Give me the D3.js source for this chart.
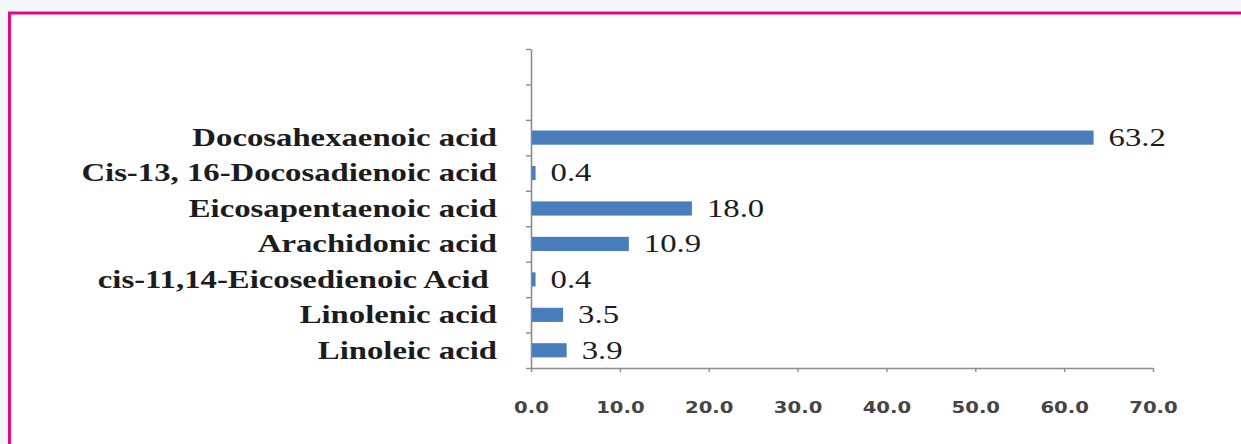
<!DOCTYPE html>
<html>
<head>
<meta charset="utf-8">
<script src="https://cdn.jsdelivr.net/npm/d3@7"></script>
<style>
  html, body { margin: 0; padding: 0; background: #f4f6f7; }
  svg { display: block; }
</style>
</head>
<body>
<svg id="chart" width="1241" height="444"></svg>
<script>
// ---- data ----
const categories = [
  "Docosahexaenoic acid",
  "Cis-13, 16-Docosadienoic acid",
  "Eicosapentaenoic acid",
  "Arachidonic acid",
  "cis-11,14-Eicosedienoic Acid ",
  "Linolenic acid",
  "Linoleic acid"
];
const values = [63.2, 0.4, 18.0, 10.9, 0.4, 3.5, 3.9];
const valueLabels = ["63.2", "0.4", "18.0", "10.9", "0.4", "3.5", "3.9"];
const blankSlots = ["blank-1", "blank-2"];
const xTicks = [0, 10, 20, 30, 40, 50, 60, 70];
const xTickLabels = ["0.0", "10.0", "20.0", "30.0", "40.0", "50.0", "60.0", "70.0"];

// ---- layout ----
const W = 1241, H = 444;
const stretch = 1.31;          // reference is horizontally stretched
const svg = d3.select("#chart");

// panel background + magenta frame (top and left)
svg.append("rect").attr("x", 9).attr("y", 13).attr("width", W - 9).attr("height", H - 13).attr("fill", "#ffffff");
svg.append("line").attr("x1", 8).attr("x2", W).attr("y1", 13).attr("y2", 13)
  .attr("stroke", "#e5097f").attr("stroke-width", 3);
svg.append("line").attr("x1", 9.5).attr("x2", 9.5).attr("y1", 12).attr("y2", H)
  .attr("stroke", "#e5097f").attr("stroke-width", 3);

const x = d3.scaleLinear().domain([0, 70]).range([531, 1153]);
const y = d3.scaleBand().domain(blankSlots.concat(categories)).range([49, 368]).paddingInner(0.6).paddingOuter(0.3);
const slot = d3.scaleLinear().domain([0, blankSlots.length + categories.length]).range([49, 368]);

const axisColor = "#8c8c8c";

// y axis (ticks between categories)
const yAxisG = svg.append("g").attr("transform", `translate(${x(0)},0)`)
  .call(d3.axisLeft(slot).tickValues(d3.range(0, blankSlots.length + categories.length + 1))
    .tickFormat("").tickSize(5).tickSizeOuter(0));
yAxisG.select(".domain").attr("stroke", axisColor).attr("stroke-width", 1.6);
yAxisG.selectAll(".tick line").attr("stroke", axisColor).attr("stroke-width", 1.4);

// x axis
const xAxisG = svg.append("g").attr("transform", `translate(0,${slot.range()[1]})`)
  .call(d3.axisBottom(x).tickValues(xTicks).tickFormat((d, i) => xTickLabels[i]).tickSize(4).tickSizeOuter(0));
xAxisG.select(".domain").attr("stroke", axisColor).attr("stroke-width", 1.6);
xAxisG.selectAll(".tick line").attr("stroke", axisColor).attr("stroke-width", 1.4);
xAxisG.selectAll(".tick text")
  .attr("y", 45).attr("dy", 0)
  .attr("transform", `scale(${stretch},1)`)
  .attr("font-family", "'DejaVu Sans', Verdana, sans-serif")
  .attr("font-weight", "bold")
  .attr("font-size", 15)
  .attr("fill", "#454545");

// bars
svg.append("g").selectAll("rect").data(categories).join("rect")
  .attr("x", x(0) + 1)
  .attr("y", d => y(d))
  .attr("width", (d, i) => Math.max(0, x(values[i]) - x(0)))
  .attr("height", y.bandwidth())
  .attr("fill", "#4a7ebb");

// category labels
svg.append("g").selectAll("text").data(categories).join("text")
  .attr("transform", d => `translate(497,${y(d) + y.bandwidth() / 2}) scale(${stretch},1)`)
  .attr("dy", "0.33em")
  .attr("text-anchor", "end")
  .attr("font-family", "'Liberation Serif', 'Times New Roman', serif")
  .attr("font-weight", "bold")
  .attr("font-size", 25)
  .attr("fill", "#1c1c1c")
  .style("white-space", "pre")
  .text(d => d);

// value labels
svg.append("g").selectAll("text").data(categories).join("text")
  .attr("transform", (d, i) => `translate(${x(values[i]) + 16},${y(d) + y.bandwidth() / 2}) scale(${stretch},1)`)
  .attr("dy", "0.33em")
  .attr("text-anchor", "start")
  .attr("font-family", "'Liberation Serif', 'Times New Roman', serif")
  .attr("font-size", 25)
  .attr("fill", "#1c1c1c")
  .text((d, i) => valueLabels[i]);
</script>
</body>
</html>
